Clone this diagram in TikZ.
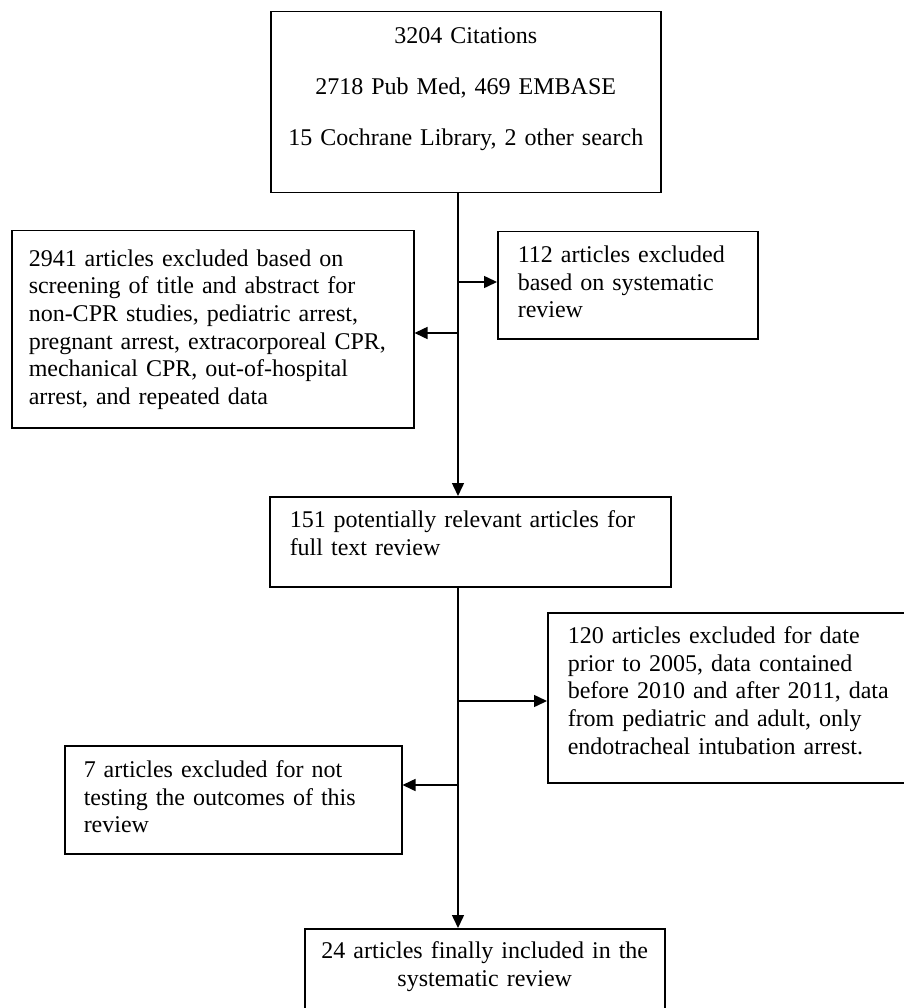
\documentclass[tikz,border=0pt]{standalone}
\usepackage{fontspec}
\setmainfont{Liberation Serif}
\usetikzlibrary{positioning, arrows.meta}
\tikzset{
        x=1pt, y=-1pt, % picture is laid out in pixels, y going down
        every node/.style={font=\fontsize{24}{27.6}\selectfont},
        box/.style={draw, line width=1.5pt, anchor=north west, inner ysep=0pt, align=left}, % every framed box
        arr/.style={-{Triangle[length=13pt,width=12pt]}, line width=1.5pt}, % the connectors
        }
\begin{document}
\begin{tikzpicture}
        \useasboundingbox (0,0) rectangle (903,1008);
        % boxes
        \node[box, align=center, inner xsep=8pt, text width=374pt, text height=32pt, text depth=149pt,
              font=\fontsize{24}{51}\selectfont] (cite) at (270,11)
              {3204 Citations\\2718 Pub Med, 469 EMBASE\\15 Cochrane Library, 2 other search};
        \node[box, inner xsep=17pt, text width=368pt, text height=35.5pt, text depth=161.5pt] (exclScreen) at (11,230)
              {2941 articles excluded based on\\screening of title and abstract for\\non-CPR studies, pediatric arrest,\\pregnant arrest, extracorporeal CPR,\\mechanical CPR, out-of-hospital\\arrest, and repeated data};
        \node[box, inner xsep=20pt, text width=220pt, text height=31pt, text depth=76pt] (exclReview) at (497,231)
              {112 articles excluded\\based on systematic\\review};
        \node[box, inner xsep=20pt, text width=361pt, text height=31pt, text depth=59pt] (fullText) at (269,496)
              {151 potentially relevant articles for\\full text review};
        \node[box, inner xsep=20pt, text width=328pt, text height=31pt, text depth=139pt] (exclDate) at (547,612)
              {120 articles excluded for date\\prior to 2005, data contained\\before 2010 and after 2011, data\\from pediatric and adult, only\\endotracheal intubation arrest.};
        \node[box, inner xsep=19pt, text width=299pt, text height=32pt, text depth=76pt] (exclOutcome) at (64,745)
              {7 articles excluded for not\\testing the outcomes of this\\review};
        \node[box, align=center, inner xsep=6pt, text width=348pt, text height=30pt, text depth=57pt] (final) at (304,928)
              {24 articles finally included in the\\systematic review};

        % trunk and branch points
        \coordinate (trunk) at (458,0);
        \coordinate (splitReview) at (458,282);
        \coordinate (splitScreen) at (458,333);
        \coordinate (splitDate) at (458,701);
        \coordinate (splitOutcome) at (458,785);

        \draw[arr] (cite.south -| trunk) -- (fullText.north -| trunk);
        \draw[arr] (splitReview) -- (splitReview -| exclReview.west);
        \draw[arr] (splitScreen) -- (splitScreen -| exclScreen.east);
        \draw[arr] (fullText.south -| trunk) -- (final.north -| trunk);
        \draw[arr] (splitDate) -- (splitDate -| exclDate.west);
        \draw[arr] (splitOutcome) -- (splitOutcome -| exclOutcome.east);
\end{tikzpicture}
\end{document}
